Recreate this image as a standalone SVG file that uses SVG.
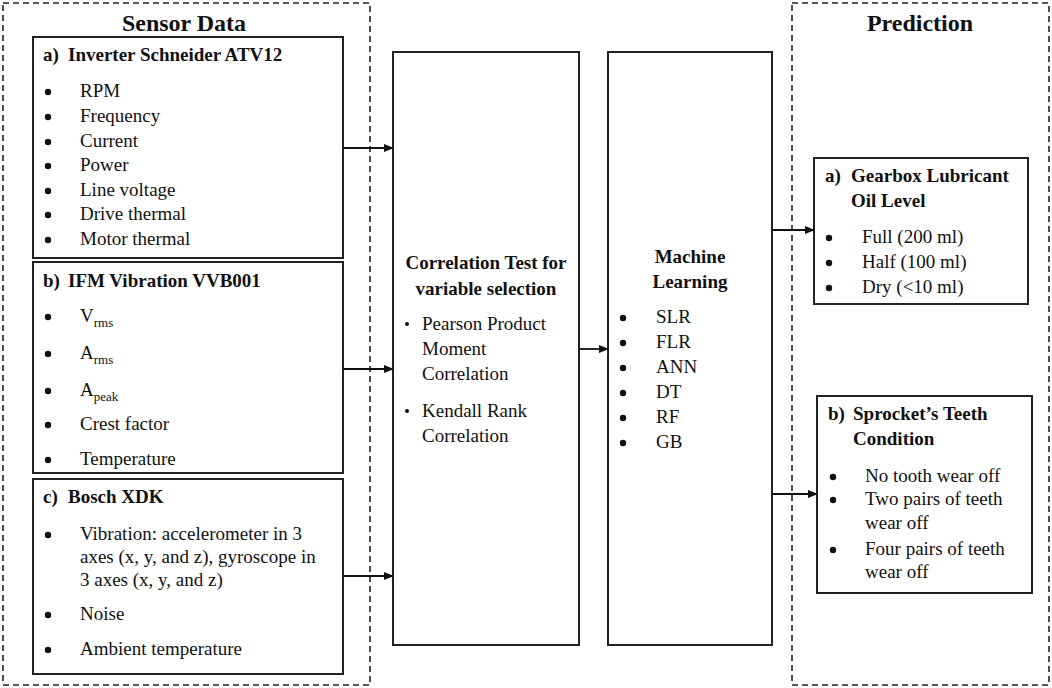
<svg xmlns="http://www.w3.org/2000/svg" width="1052" height="688" viewBox="0 0 1052 688" font-family="'Liberation Serif','Times New Roman',serif">
<defs>
<marker id="arr" markerWidth="10" markerHeight="8" refX="9" refY="4" orient="auto" markerUnits="userSpaceOnUse">
<path d="M0,0 L10,4 L0,8 Z" fill="#111"/>
</marker>
</defs>
<style>
text{font-family:"Liberation Serif","Times New Roman",serif;fill:#111}
.t{font-size:24px;font-weight:bold}
.h{font-size:19px;font-weight:bold}
.i{font-size:19px}
.s{font-size:13px}
.box{fill:#fff;stroke:#222;stroke-width:2}
.dash{fill:none;stroke:#222;stroke-width:1.6;stroke-dasharray:6,4}
.con{fill:none;stroke:#111;stroke-width:1.8;marker-end:url(#arr)}
.b{fill:#111}
</style>
<rect width="1052" height="688" fill="#fff"/>

<g id="sensor-data">
<rect class="dash" x="3" y="3" width="367" height="682"/>
<text class="t" x="184" y="31" text-anchor="middle">Sensor Data</text>
</g>

<g id="prediction">
<rect class="dash" x="792" y="3" width="257" height="682"/>
<text class="t" x="920" y="31" text-anchor="middle">Prediction</text>
</g>

<g id="inverter">
<rect class="box" x="33" y="37" width="310" height="221"/>
<text class="h" x="43" y="61">a)</text>
<text class="h" x="68" y="61">Inverter Schneider ATV12</text>
<circle class="b" cx="48" cy="92" r="3.2"/><text class="i" x="80" y="97">RPM</text>
<circle class="b" cx="48" cy="117" r="3.2"/><text class="i" x="80" y="122">Frequency</text>
<circle class="b" cx="48" cy="142" r="3.2"/><text class="i" x="80" y="147">Current</text>
<circle class="b" cx="48" cy="166" r="3.2"/><text class="i" x="80" y="171">Power</text>
<circle class="b" cx="48" cy="191" r="3.2"/><text class="i" x="80" y="196">Line voltage</text>
<circle class="b" cx="48" cy="215" r="3.2"/><text class="i" x="80" y="220">Drive thermal</text>
<circle class="b" cx="48" cy="240" r="3.2"/><text class="i" x="80" y="245">Motor thermal</text>
</g>

<g id="ifm">
<rect class="box" x="33" y="262" width="310" height="211"/>
<text class="h" x="43" y="287">b)</text>
<text class="h" x="68" y="287">IFM Vibration VVB001</text>
<circle class="b" cx="48" cy="317" r="3.2"/><text class="i" x="80" y="322">V<tspan class="s" dy="5">rms</tspan></text>
<circle class="b" cx="48" cy="354" r="3.2"/><text class="i" x="80" y="359">A<tspan class="s" dy="5">rms</tspan></text>
<circle class="b" cx="48" cy="391" r="3.2"/><text class="i" x="80" y="396">A<tspan class="s" dy="5">peak</tspan></text>
<circle class="b" cx="48" cy="425" r="3.2"/><text class="i" x="80" y="430">Crest factor</text>
<circle class="b" cx="48" cy="460" r="3.2"/><text class="i" x="80" y="465">Temperature</text>
</g>

<g id="bosch">
<rect class="box" x="33" y="479" width="310" height="195"/>
<text class="h" x="43" y="503">c)</text>
<text class="h" x="68" y="503">Bosch XDK</text>
<circle class="b" cx="48" cy="535" r="3.2"/>
<text class="i" x="80" y="540">Vibration: accelerometer in 3</text>
<text class="i" x="80" y="563">axes (x, y, and z), gyroscope in</text>
<text class="i" x="80" y="586">3 axes (x, y, and z)</text>
<circle class="b" cx="48" cy="615" r="3.2"/><text class="i" x="80" y="620">Noise</text>
<circle class="b" cx="48" cy="650" r="3.2"/><text class="i" x="80" y="655">Ambient temperature</text>
</g>

<g id="correlation">
<rect class="box" x="393" y="52" width="186" height="593"/>
<text class="h" x="486" y="269" text-anchor="middle">Correlation Test for</text>
<text class="h" x="486" y="295" text-anchor="middle">variable selection</text>
<circle class="b" cx="407" cy="324" r="2"/>
<text class="i" x="422" y="330">Pearson Product</text>
<text class="i" x="422" y="355">Moment</text>
<text class="i" x="422" y="380">Correlation</text>
<circle class="b" cx="407" cy="411" r="2"/>
<text class="i" x="422" y="417">Kendall Rank</text>
<text class="i" x="422" y="442">Correlation</text>
</g>

<g id="machine-learning">
<rect class="box" x="608" y="52" width="164" height="593"/>
<text class="h" x="690" y="263" text-anchor="middle">Machine</text>
<text class="h" x="690" y="288" text-anchor="middle">Learning</text>
<circle class="b" cx="623" cy="318" r="3.2"/><text class="i" x="656" y="323">SLR</text>
<circle class="b" cx="623" cy="343" r="3.2"/><text class="i" x="656" y="348">FLR</text>
<circle class="b" cx="623" cy="368" r="3.2"/><text class="i" x="656" y="373">ANN</text>
<circle class="b" cx="623" cy="393" r="3.2"/><text class="i" x="656" y="398">DT</text>
<circle class="b" cx="623" cy="418" r="3.2"/><text class="i" x="656" y="423">RF</text>
<circle class="b" cx="623" cy="443" r="3.2"/><text class="i" x="656" y="448">GB</text>
</g>

<g id="oil-level">
<rect class="box" x="814" y="158" width="214" height="146"/>
<text class="h" x="825" y="182">a)</text>
<text class="h" x="851" y="182">Gearbox Lubricant</text>
<text class="h" x="851" y="207">Oil Level</text>
<circle class="b" cx="829" cy="238" r="3.2"/><text class="i" x="862" y="243">Full (200 ml)</text>
<circle class="b" cx="829" cy="263" r="3.2"/><text class="i" x="862" y="268">Half (100 ml)</text>
<circle class="b" cx="829" cy="288" r="3.2"/><text class="i" x="862" y="293">Dry (&lt;10 ml)</text>
</g>

<g id="teeth">
<rect class="box" x="817" y="396" width="215" height="197"/>
<text class="h" x="828" y="420">b)</text>
<text class="h" x="853" y="420">Sprocket’s Teeth</text>
<text class="h" x="853" y="445">Condition</text>
<circle class="b" cx="833" cy="477" r="3.2"/><text class="i" x="865" y="482">No tooth wear off</text>
<circle class="b" cx="833" cy="500" r="3.2"/><text class="i" x="865" y="505">Two pairs of teeth</text>
<text class="i" x="865" y="529">wear off</text>
<circle class="b" cx="833" cy="550" r="3.2"/><text class="i" x="865" y="555">Four pairs of teeth</text>
<text class="i" x="865" y="578">wear off</text>
</g>

<g id="connectors">
<line class="con" x1="343" y1="148" x2="393" y2="148"/>
<line class="con" x1="343" y1="369" x2="393" y2="369"/>
<line class="con" x1="343" y1="576" x2="393" y2="576"/>
<line class="con" x1="579" y1="349" x2="608" y2="349"/>
<line class="con" x1="772" y1="230" x2="814" y2="230"/>
<line class="con" x1="772" y1="494" x2="817" y2="494"/>
</g>
</svg>
